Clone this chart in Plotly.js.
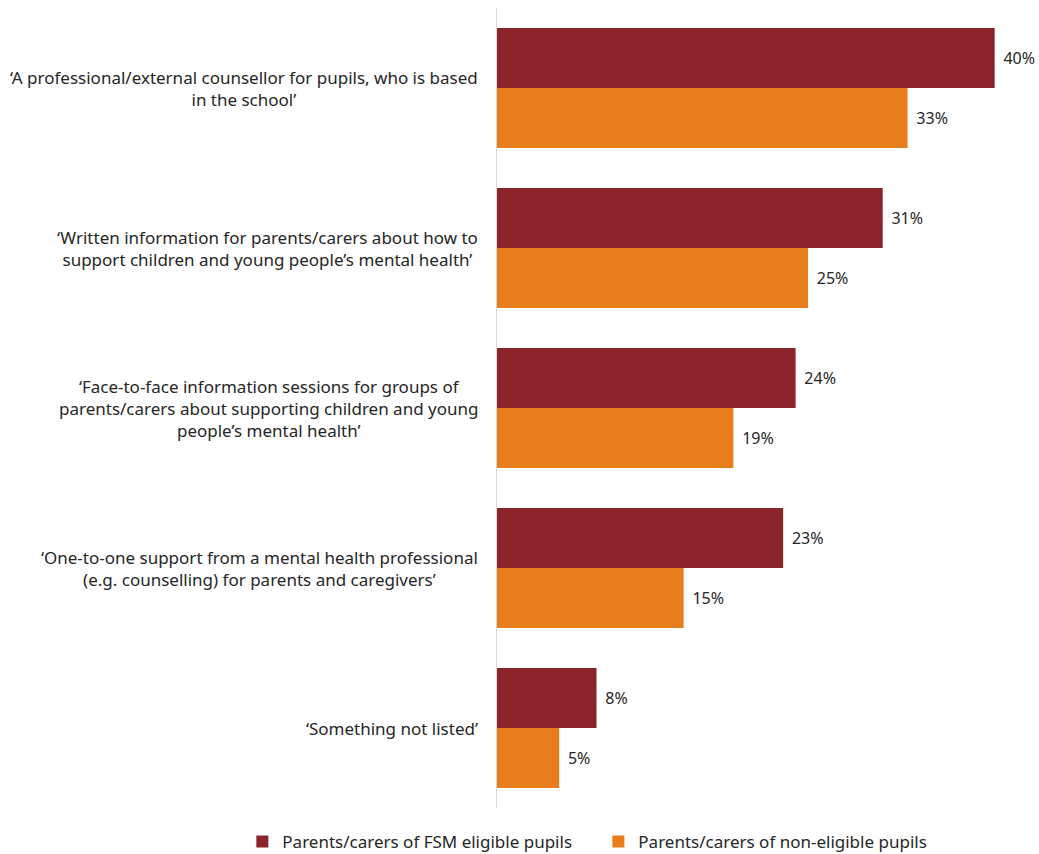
<!DOCTYPE html>
<html>
<head>
<meta charset="utf-8">
<script src="https://cdn.plot.ly/plotly-3.0.1.min.js"></script>
<style>html,body{margin:0;padding:0;background:#fff;}#chart{width:1039px;height:854px;}</style>
</head>
<body>
<div id="chart"></div>
<script>
const categories = [
  "‘A professional/external counsellor for pupils, who is based<br>in the school’",
  "‘Written information for parents/carers about how to<br>support children and young people’s mental health’",
  "‘Face-to-face information sessions for groups of<br>parents/carers about supporting children and young<br>people’s mental health’",
  "‘One-to-one support from a mental health professional<br>(e.g. counselling) for parents and caregivers’",
  "‘Something not listed’"
];
const fsmValues = [40, 31, 24, 23, 8];
const nonEligibleValues = [33, 25, 19, 15, 5];
const seriesNames = ["Parents/carers of FSM eligible pupils", "Parents/carers of non-eligible pupils"];

const catIds = categories.map((c, i) => "c" + i);
const FONT = "Noto Sans, Open Sans, sans-serif";
const TXT = "#262626";

const common = {
  type: "bar",
  orientation: "h",
  y: catIds,
  textposition: "outside",
  texttemplate: "\u00a0\u200a%{x}%",
  cliponaxis: false,
  constraintext: "none",
  textfont: {family: FONT, size: 16, color: TXT},
  hoverinfo: "none"
};

const data = [
  Object.assign({}, common, {x: fsmValues, name: seriesNames[0], marker: {color: "#8B252B"}}),
  Object.assign({}, common, {x: nonEligibleValues, name: seriesNames[1], marker: {color: "#E87D1E"}})
];

const annotations = categories.map((c, i) => ({
  xref: "paper", yref: "y", x: 0, y: catIds[i],
  xanchor: "right", yanchor: "middle", align: "center",
  xshift: -17, text: c, showarrow: false,
  font: {family: FONT, size: 17, color: TXT}
}));

const layout = {
  width: 1039, height: 854,
  margin: {l: 497, r: 7, t: 8, b: 46, autoexpand: false},
  paper_bgcolor: "#fff", plot_bgcolor: "#fff",
  barmode: "group", bargap: 0.25, bargroupgap: 0,
  font: {family: FONT, color: TXT},
  xaxis: {range: [0, 43], showgrid: false, zeroline: false, showticklabels: false, showline: false, ticks: ""},
  yaxis: {autorange: "reversed", showticklabels: false, showline: true, linecolor: "#d9d9d9", linewidth: 1, showgrid: false, ticks: "", zeroline: false},
  showlegend: true,
  legend: {orientation: "h", xref: "paper", yref: "paper", x: -0.476, xanchor: "left", y: -0.02, yanchor: "top",
           bgcolor: "rgba(0,0,0,0)",
           font: {family: FONT, size: 17, color: TXT}, itemwidth: 30, traceorder: "normal",
           entrywidth: 311, entrywidthmode: "pixels"},
  annotations: annotations
};

Plotly.newPlot("chart", data, layout, {displayModeBar: false, staticPlot: true});
</script>
</body>
</html>
